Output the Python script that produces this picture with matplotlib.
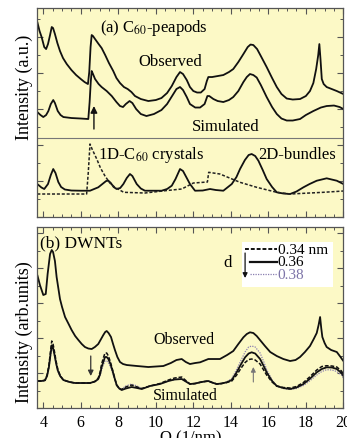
import matplotlib
matplotlib.use("Agg")
import matplotlib.pyplot as plt
from matplotlib.ticker import MultipleLocator

plt.rcParams['font.family'] = ['Liberation Serif', 'DejaVu Serif']
plt.rcParams['mathtext.fontset'] = 'stix'

# ---------------- data: panel (a) C60-peapods ----------------
q_obs_a = [3.68, 3.8, 3.91, 4.05, 4.15, 4.25, 4.36, 4.45, 4.52, 4.62, 4.75, 4.89, 5.05, 5.25,
           5.5, 5.75, 6.0, 6.2, 6.38, 6.45, 6.52, 6.58, 6.65, 6.76, 6.95, 7.11, 7.3, 7.5,
           7.73, 7.9, 8.09, 8.3, 8.5, 8.7, 8.89, 9.2, 9.6, 10.0, 10.3, 10.6, 10.85, 11.1,
           11.29, 11.45, 11.65, 11.82, 12.0, 12.2, 12.4, 12.6, 12.72, 12.8, 13.0, 13.3, 13.6,
           13.9, 14.13, 14.4, 14.67, 14.9, 15.05, 15.2, 15.4, 15.6, 15.91, 16.2, 16.45, 16.7,
           16.98, 17.3, 17.69, 18.0, 18.22, 18.4, 18.55, 18.66, 18.72, 18.78, 18.85, 18.95,
           19.11, 19.65, 20.0]
i_obs_a = [195, 186, 180, 170, 168, 173, 182, 190, 189, 183, 174, 166, 159, 153,
           147, 142, 138, 135, 133, 145, 170, 182, 181, 178, 173, 169, 162, 154,
           146, 139, 134, 130, 128, 125, 121, 118, 116, 117, 119, 124, 131, 140,
           145, 143, 137, 130, 126, 124.5, 124.5, 128, 136, 140, 140, 141, 142,
           145, 148, 155, 163, 170, 172.5, 172, 168, 161, 150, 139, 130, 123,
           118.5, 117.5, 118, 121, 126, 134, 148, 162, 173, 158, 138, 133,
           130, 126, 123]

q_sim_a = [3.68, 3.85, 4.0, 4.15, 4.27, 4.4, 4.53, 4.62, 4.77, 4.92, 5.07, 5.5, 6.0, 6.4,
           6.47, 6.53, 6.58, 6.65, 6.76, 6.95, 7.11, 7.38, 7.65, 7.9, 8.09, 8.25, 8.4, 8.6,
           8.75, 8.95, 9.2, 9.5, 9.9, 10.3, 10.6, 10.9, 11.1, 11.29, 11.45, 11.65, 11.82,
           12.1, 12.36, 12.6, 12.75, 12.85, 13.07, 13.3, 13.6, 13.9, 14.13, 14.4, 14.67,
           14.85, 15.02, 15.2, 15.38, 15.6, 15.91, 16.2, 16.45, 16.7, 16.98, 17.3, 17.69,
           18.0, 18.4, 18.8, 19.11, 19.5, 19.8, 20.0]
i_sim_a = [105, 102, 100, 102, 106, 113, 117, 114, 106, 102, 100, 99, 98.5, 98,
           115, 135, 146, 143, 138, 133, 130, 126, 121, 115, 111, 110, 113, 116,
           114, 108, 103, 101, 103, 107, 113, 122, 128, 130, 127, 120, 113,
           109.5, 109.5, 113, 121, 121, 118, 116, 115, 117, 120, 126, 135,
           140, 143, 142, 139.5, 132, 120, 110, 103, 98.5, 96.5, 96.5, 98,
           102, 106, 109.5, 111, 111.5, 110, 108]

q_2d = [3.68, 3.9, 4.05, 4.25, 4.4, 4.53, 4.65, 4.8, 4.95, 5.15, 5.5, 6.0, 6.49, 6.93,
        7.15, 7.35, 7.47, 7.6, 7.75, 7.91, 8.1, 8.27, 8.45, 8.62, 8.75, 8.98, 9.2, 9.42,
        10.31, 10.6, 10.85, 11.05, 11.29, 11.45, 11.65, 11.82, 12.09, 12.5, 12.89, 13.2,
        13.6, 14.05, 14.3, 14.49, 14.75, 14.95, 15.11, 15.3, 15.47, 15.7, 15.91, 16.2,
        16.45, 16.8, 17.16, 17.5, 17.87, 18.2, 18.58, 19.11, 19.65, 20.0]
i_2d = [33, 29.5, 28, 33, 42, 48, 44, 35, 30, 27.5, 26.5, 26.3, 26.3, 29.7,
        33, 36, 36.3, 34, 30, 28, 29, 33, 39, 43, 41, 33, 28.5, 26.3,
        26.3, 28, 31.3, 38, 48, 46, 39, 33, 26.3, 26.5, 28, 27,
        26.3, 33, 40, 48, 57, 62, 63, 61, 56.3, 47, 38, 30,
        24.7, 23.5, 23, 25.5, 29.7, 33, 36.3, 38.7, 36.3, 33]

q_1d = [3.68, 6.31, 6.4, 6.49, 6.6, 6.85, 7.05, 7.29, 7.55, 7.82, 8.29, 9.42, 10.49,
        11.38, 12.0, 12.75, 12.82, 13.42, 14.49, 15.38, 16.45, 17.16, 18.93, 20.0]
i_1d = [23, 23, 45, 73, 68, 58, 49, 41, 34, 29.7, 24.7, 24, 26.3,
        28, 34, 35, 44.7, 43, 34.7, 29.7, 24.7, 23, 24.7, 26]

# ---------------- data: panel (b) DWNTs ----------------
q_obs_b = [3.68, 3.82, 4.0, 4.13, 4.23, 4.36, 4.45, 4.52, 4.62, 4.71, 4.89, 5.0, 5.16, 5.35,
           5.51, 5.7, 5.87, 6.05, 6.22, 6.4, 6.58, 6.75, 6.93, 7.08, 7.2, 7.3, 7.38, 7.48,
           7.61, 7.72, 7.82, 7.95, 8.09, 8.25, 8.45, 9.0, 9.6, 10.0, 10.4, 10.8, 11.1, 11.38,
           11.6, 11.82, 12.1, 12.36, 12.6, 12.8, 13.1, 13.42, 13.8, 14.13, 14.4, 14.67, 14.85,
           15.02, 15.2, 15.38, 15.6, 15.82, 16.1, 16.45, 16.8, 17.16, 17.45, 17.69, 17.95,
           18.22, 18.42, 18.58, 18.68, 18.76, 18.82, 18.88, 19.0, 19.11, 19.35, 19.65, 19.85,
           20.0]
i_obs_b = [133, 123, 113, 114, 134, 154, 158, 156, 147, 131, 109, 101, 91, 84,
           78, 72, 68, 64, 61, 59.5, 59, 61, 64, 69, 73, 76, 77, 75,
           71, 64, 58, 51, 46, 44, 43, 42, 41, 41.5, 42, 45, 48, 49,
           46, 44, 45, 45.7, 47.5, 49, 49, 49, 53, 57, 64, 70.7, 74,
           75.7, 75, 72, 67, 62, 56, 52, 49, 47, 48, 51, 56,
           62, 69, 75, 83, 91, 80, 71, 65, 61, 58, 56, 51,
           47]

q_sim_b = [3.68, 3.9, 4.09, 4.2, 4.3, 4.38, 4.45, 4.52, 4.59, 4.68, 4.77, 4.9, 5.07, 5.4,
           5.69, 6.1, 6.49, 6.75, 6.93, 7.03, 7.11, 7.2, 7.29, 7.38, 7.47, 7.58, 7.68, 7.8,
           7.91, 8.05, 8.18, 8.4, 8.71, 9.0, 9.25, 9.69, 10.22, 10.67, 11.0, 11.38, 11.6,
           11.82, 12.1, 12.36, 12.6, 12.8, 13.0, 13.25, 13.5, 13.78, 14.05, 14.31, 14.55,
           14.76, 14.95, 15.11, 15.3, 15.56, 15.75, 15.91, 16.2, 16.45, 16.8, 17.16, 17.5,
           17.87, 18.2, 18.58, 18.85, 19.11, 19.4, 19.65, 19.9, 20.0]
i_sim_036 = [27, 27, 27.7, 32, 41, 53, 62.7, 60, 54, 45, 37.7, 32, 28, 26,
             25, 25, 25, 26.5, 29, 34, 41, 46, 51, 51, 49, 44, 38, 30,
             23, 19.5, 18, 19.5, 21, 20, 19, 22, 24, 27, 28.5, 29, 26.5,
             24, 24.5, 25.7, 26.5, 27, 25.5, 24, 24.5, 25.7, 28, 35.7, 44,
             50.7, 54.5, 55.7, 54.5, 49, 42, 35.7, 27, 22, 20, 19, 20.5,
             24, 29, 35.7, 39, 40.7, 40.5, 39, 35, 32]
i_sim_034 = [27, 27, 27.7, 33, 43, 56, 67, 64, 57, 47, 39, 32.5, 28, 26,
             25, 25, 25, 26.5, 30, 36, 44, 50, 55, 55, 52, 46, 39, 30.5,
             23, 19.5, 18.5, 21, 23, 21, 19.5, 22, 24.5, 28, 30, 31, 27.5,
             24, 24.5, 25.7, 26.5, 27, 25.5, 24, 24.5, 25.5, 27, 33, 40,
             45.5, 48.5, 49, 48, 44, 38, 33, 26, 22, 20.5, 20, 21.5,
             25.5, 31, 38, 41.5, 42.3, 42, 41, 37, 34]
i_sim_038 = [27, 27, 27.7, 31.5, 40, 51, 61, 58.5, 53, 44, 37, 31.5, 28, 26,
             25, 25, 25, 26.5, 28.5, 32.5, 38, 43, 47, 47, 45.5, 41, 36, 29,
             23, 20, 19, 22, 24, 22, 19.5, 22, 24, 27, 28.5, 29.5, 26.5,
             24, 24.5, 25.7, 26.5, 27, 25.5, 24, 24.5, 26, 29.5, 38.5, 48,
             56, 61, 62, 61, 55, 46.5, 38.5, 28, 22, 19.5, 18.5, 19.5,
             22.5, 27, 33, 36.5, 38.3, 38, 36.5, 33, 30]

legend_labels = ['0.34 nm', '0.36', '0.38']

bg = '#fcf9c6'
spine_c = '#555555'
fig = plt.figure(figsize=(3.47, 4.39), dpi=100)
fig.patch.set_facecolor('white')

ax1 = fig.add_axes([0.1075, 0.5034, 0.882, 0.476])
ax2 = fig.add_axes([0.1075, 0.0683, 0.882, 0.4123])

for ax in (ax1, ax2):
    ax.set_facecolor(bg)
    ax.set_xlim(3.68, 20)
    ax.xaxis.set_major_locator(MultipleLocator(2))
    ax.xaxis.set_minor_locator(MultipleLocator(0.5))
    ax.tick_params(which='both', direction='in', top=True, right=True,
                   color=spine_c, labelsize=11.5, pad=4)
    ax.tick_params(which='major', length=4, width=0.8)
    ax.tick_params(which='minor', length=2.5, width=0.7)
    for s in ax.spines.values():
        s.set_color(spine_c)
        s.set_linewidth(0.9)

lw = 1.3
kw = dict(solid_joinstyle='round', solid_capstyle='round')
# panel a
ax1.set_ylim(0, 209)
ax1.yaxis.set_major_locator(MultipleLocator(36))
ax1.yaxis.set_minor_locator(MultipleLocator(18))
ax1.tick_params(axis='y', labelleft=False)
ax1.tick_params(axis='x', labelbottom=False)
ax1.plot(q_obs_a, i_obs_a, color='#111111', lw=lw, **kw)
ax1.plot(q_sim_a, i_sim_a, color='#111111', lw=lw, **kw)
ax1.plot(q_2d, i_2d, color='#111111', lw=lw, **kw)
ax1.plot(q_1d, i_1d, color='#222222', lw=1.1, ls=(0, (2, 1.2)))
ax1.axhline(78.7, color='#777777', lw=0.8)
ax1.annotate('', xy=(6.7, 111), xytext=(6.7, 88),
             arrowprops=dict(arrowstyle='-|>', color='#111111', lw=1.0,
                             mutation_scale=10, shrinkA=0, shrinkB=0))
ax1.text(7.02, 190, '(a) C$_{60}$-peapods', fontsize=12, va='center', ha='left')
ax1.text(9.05, 156, 'Observed', fontsize=12, va='center', ha='left')
ax1.text(11.93, 91, 'Simulated', fontsize=12, va='center', ha='left')
ax1.text(6.92, 63, '1D-C$_{60}$ crystals', fontsize=12, va='center', ha='left')
ax1.text(15.45, 63, '2D-bundles', fontsize=12, va='center', ha='left')
ax1.set_ylabel('Intensity (a.u.)', fontsize=13)
ax1.yaxis.set_label_coords(-0.014, 0.627)

# panel b
ax2.set_ylim(0, 181)
ax2.yaxis.set_major_locator(MultipleLocator(35))
ax2.yaxis.set_minor_locator(MultipleLocator(17.5))
ax2.tick_params(axis='y', labelleft=False)
ax2.plot(q_obs_b, i_obs_b, color='#111111', lw=lw, **kw)
ax2.plot(q_sim_b, i_sim_038, color='#8a7fb0', lw=0.9, ls=(0, (1, 1)))
ax2.plot(q_sim_b, i_sim_034, color='#111111', lw=1.1, ls=(0, (2.5, 1.2)))
ax2.plot(q_sim_b, i_sim_036, color='#111111', lw=lw, **kw)
ax2.annotate('', xy=(6.53, 32), xytext=(6.53, 52),
             arrowprops=dict(arrowstyle='-|>', color='#333333', lw=0.9,
                             mutation_scale=8, shrinkA=0, shrinkB=0))
ax2.annotate('', xy=(15.2, 41), xytext=(15.2, 26),
             arrowprops=dict(arrowstyle='-|>', color='#777777', lw=0.8,
                             mutation_scale=7, shrinkA=0, shrinkB=0))
ax2.text(3.82, 166, '(b) DWNTs', fontsize=12.5, va='center', ha='left')
ax2.text(9.85, 69, 'Observed', fontsize=11.5, va='center', ha='left')
ax2.text(9.85, 13, 'Simulated', fontsize=11.5, va='center', ha='left')

# legend box
ax2.add_patch(plt.Rectangle((14.58, 120.7), 4.89, 45, facecolor='white',
                            edgecolor='none', zorder=3))
ax2.plot([14.76, 16.46], [159, 159], color='#111111', lw=1.4, ls=(0, (2, 1)), zorder=4)
ax2.plot([15.0, 16.46], [146, 146], color='#111111', lw=1.6, zorder=4)
ax2.plot([15.0, 16.46], [134, 134], color='#8a7fb0', lw=0.9, ls=(0, (1, 1)), zorder=4)
ax2.text(16.5, 159, legend_labels[0], fontsize=11, va='center', ha='left', zorder=5)
ax2.text(16.5, 146.5, legend_labels[1], fontsize=11, va='center', ha='left', zorder=5)
ax2.text(16.5, 134, legend_labels[2], fontsize=11, va='center', ha='left',
         color='#7d74a8', zorder=5)
ax2.text(13.85, 146, 'd', fontsize=12, va='center', ha='center', zorder=5)
ax2.annotate('', xy=(14.76, 130), xytext=(14.76, 155),
             arrowprops=dict(arrowstyle='-|>', color='#111111', lw=0.9,
                             mutation_scale=7, shrinkA=0, shrinkB=0), zorder=5)
ax2.set_ylabel('Intensity (arb.units)', fontsize=13)
ax2.yaxis.set_label_coords(-0.014, 0.427)
ax2.set_xlabel('Q (1/nm)', fontsize=12, labelpad=0)

fig.savefig('out.png', dpi=100, facecolor='white')
